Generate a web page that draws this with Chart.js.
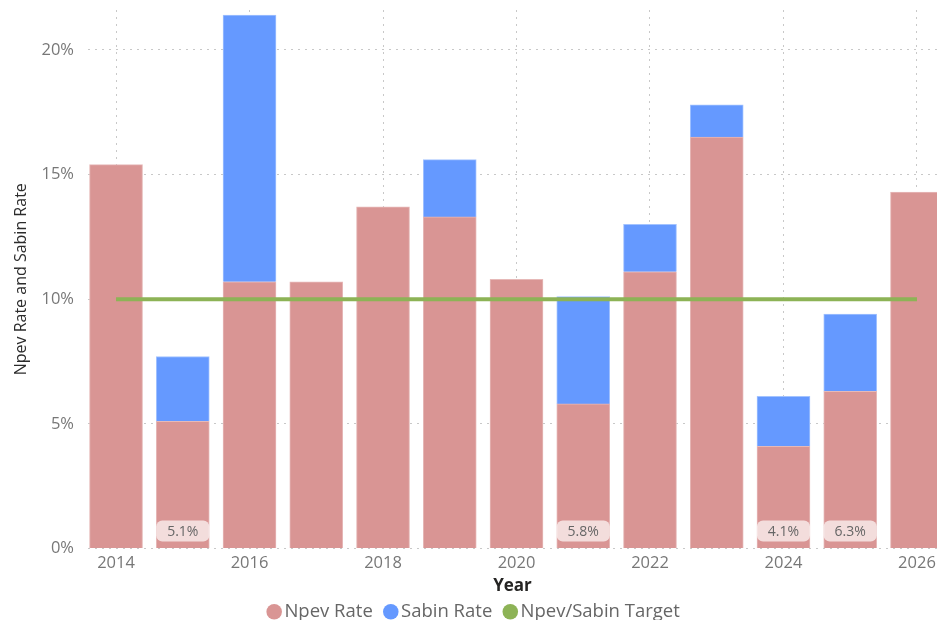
<!DOCTYPE html>
<html>
<head>
<meta charset="utf-8">
<script src="https://cdn.jsdelivr.net/npm/chart.js@4.4.1/dist/chart.umd.min.js"></script>
<style>
  html, body { margin: 0; padding: 0; background: #ffffff; }
  #wrap { width: 937px; height: 620px; position: relative; }
</style>
</head>
<body>
<div id="wrap"><canvas id="c" width="937" height="620"></canvas></div>
<script>
// ---- data ----
const years       = [2014, 2015, 2016, 2017, 2018, 2019, 2020, 2021, 2022, 2023, 2024, 2025, 2026];
const npevRate    = [15.4, 5.1, 10.7, 10.7, 13.7, 13.3, 10.8, 5.8, 11.1, 16.5, 4.1, 6.3, 14.3];
const sabinRate   = [null, 2.6, 10.7, null, null, 2.3, null, 4.3, 1.9, 1.3, 2.0, 3.1, null];
const targetRate  = [10, 10, 10, 10, 10, 10, 10, 10, 10, 10, 10, 10, 10];
const xTickYears  = [2014, 2016, 2018, 2020, 2022, 2024, 2026];
const yTickValues = [0, 5, 10, 15, 20];
const seriesNames = ['Npev Rate', 'Sabin Rate', 'Npev/Sabin Target'];

const FONT = "'Open Sans', 'Noto Sans', sans-serif";
const COL_NPEV = '#d99594';
const COL_SABIN = '#6599ff';
const COL_TARGET = '#8db356';

const pts = (arr) => years.map((y, i) => ({ x: y, y: arr[i] }));

// data labels in a pill at the bottom of short Npev bars
const pillLabels = {
  id: 'pillLabels',
  afterLayout(chart) {
    const lg = chart.legend;
    if (lg) { lg.left += 8; lg.right += 8; lg.top += 2; lg.bottom += 2; }
  },
  afterDatasetsDraw(chart) {
    const meta = chart.getDatasetMeta(0);
    const ctx = chart.ctx;
    const base = chart.scales.y.getPixelForValue(0);
    ctx.save();
    meta.data.forEach((bar, i) => {
      const v = npevRate[i];
      if (v >= 7) return;
      const w = bar.width;
      const x0 = bar.x - w / 2;
      const h = 21;
      const y0 = base - 7 - h;
      ctx.beginPath();
      ctx.roundRect(x0, y0, w, h, 6);
      ctx.fillStyle = 'rgba(255,255,255,0.68)';
      ctx.fill();
      ctx.fillStyle = '#666666';
      ctx.font = '14px ' + FONT;
      ctx.textAlign = 'center';
      ctx.textBaseline = 'middle';
      ctx.fillText(v.toFixed(1) + '%', bar.x, y0 + h / 2 + 1);
    });
    ctx.restore();
  }
};

new Chart(document.getElementById('c'), {
  data: {
    datasets: [
      {
        type: 'bar', label: seriesNames[0], data: pts(npevRate), stack: 'rates',
        backgroundColor: COL_NPEV, borderColor: '#e6b9b8', borderWidth: 1,
        barThickness: 53, order: 2
      },
      {
        type: 'bar', label: seriesNames[1], data: pts(sabinRate), stack: 'rates',
        backgroundColor: COL_SABIN, borderColor: '#a3c3ff', borderWidth: 1,
        barThickness: 53, order: 2
      },
      {
        type: 'line', label: seriesNames[2], data: pts(targetRate), stack: 'target',
        borderColor: COL_TARGET, backgroundColor: COL_TARGET, borderWidth: 4,
        pointRadius: 0, pointHoverRadius: 0, order: 1, tension: 0
      }
    ]
  },
  options: {
    responsive: false,
    animation: false,
    devicePixelRatio: 1,
    layout: { padding: { top: 10, left: 0, right: 0, bottom: -9 } },
    plugins: {
      legend: {
        position: 'bottom',
        labels: {
          usePointStyle: true, pointStyle: 'circle',
          boxWidth: 2, boxHeight: 11, padding: 17,
          color: '#666666', font: { family: FONT, size: 18.5 },
          sort: (a, b) => a.datasetIndex - b.datasetIndex,
          generateLabels(chart) {
            const items = Chart.defaults.plugins.legend.labels.generateLabels(chart);
            items.forEach(it => { it.lineWidth = 0; it.strokeStyle = 'transparent'; it.pointStyle = 'circle'; });
            return items;
          }
        }
      },
      tooltip: { enabled: false }
    },
    scales: {
      x: {
        type: 'linear', min: 2013.58, max: 2026.3, offset: false,
        afterBuildTicks(s) { s.ticks = xTickYears.map(v => ({ value: v })); },
        afterFit(s) { s.height = 35; s.paddingLeft = 0; s.paddingRight = 0; },
        grid: { color: '#c8c8c8', lineWidth: 1, drawTicks: false, offset: false },
        border: { display: false, dash: [2, 5] },
        ticks: { color: '#777777', font: { family: FONT, size: 16.5 }, padding: 5,
                 callback: (v) => String(v), maxRotation: 0, autoSkip: false },
        title: { display: true, text: 'Year', color: '#252423',
                 font: { family: FONT, size: 17, weight: 'bold' }, padding: { top: 0, bottom: -13 } }
      },
      y: {
        stacked: true, min: 0, max: 21.6,
        afterBuildTicks(s) { s.ticks = yTickValues.map(v => ({ value: v })); },
        afterFit(s) { s.width = 88; s.paddingTop = 0; s.paddingBottom = 0; },
        grid: { color: '#c8c8c8', lineWidth: 1, drawTicks: false },
        border: { display: false, dash: [2, 5] },
        ticks: { color: '#777777', font: { family: FONT, size: 16.5 }, padding: 14,
                 callback: (v) => v + '%' },
        title: { display: true, text: 'Npev Rate and Sabin Rate', color: '#2b2b2b',
                 font: { family: FONT, size: 16 }, padding: { top: 12, bottom: 0 } }
      }
    }
  },
  plugins: [pillLabels]
});
</script>
</body>
</html>
